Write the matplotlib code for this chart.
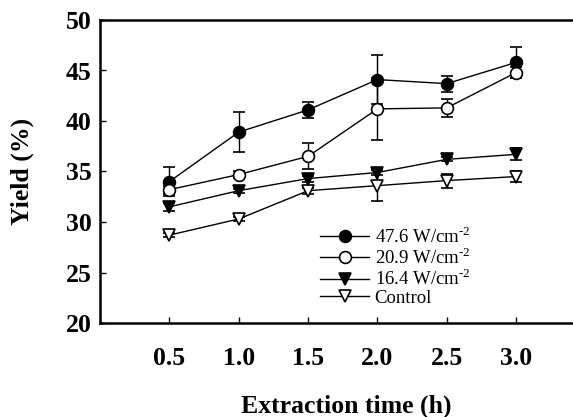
import matplotlib
matplotlib.use("Agg")
import matplotlib.pyplot as plt

plt.rcParams['font.family'] = ['Liberation Serif', 'DejaVu Serif']
plt.rcParams['mathtext.fontset'] = 'custom'
plt.rcParams['mathtext.rm'] = 'Liberation Serif'

time_h = [0.5, 1.0, 1.5, 2.0, 2.5, 3.0]
labels = [r'47.6 W/cm$^{\text{-}2}$', r'20.9 W/cm$^{\text{-}2}$', r'16.4 W/cm$^{\text{-}2}$', 'Control']
yield_476 = [34.0, 38.9, 41.1, 44.1, 43.7, 45.8]
err_476 = [1.4, 2.0, 0.8, 2.4, 0.8, 1.5]
yield_209 = [33.2, 34.7, 36.5, 41.2, 41.3, 44.8]
err_209 = [0.4, 0.3, 1.3, 3.1, 0.9, 0.5]
yield_164 = [31.5, 33.1, 34.3, 34.9, 36.2, 36.7]
err_164 = [0.4, 0.2, 0.3, 0.2, 0.2, 0.6]
yield_ctrl = [28.7, 30.3, 33.1, 33.6, 34.1, 34.5]
err_ctrl = [0.2, 0.2, 0.3, 1.5, 0.7, 0.5]
yticks = [20, 25, 30, 35, 40, 45, 50]
xtick_labels = ['0.5', '1.0', '1.5', '2.0', '2.5', '3.0']

fig = plt.figure(figsize=(5.73, 4.17), dpi=100)
ax = fig.add_axes([100/573, 94/417, 473/573, 303/417])

series = [
    (yield_476, err_476, dict(marker='o', mfc='black')),
    (yield_209, err_209, dict(marker='o', mfc='white')),
    (yield_164, err_164, dict(marker='v', mfc='black')),
    (yield_ctrl, err_ctrl, dict(marker='v', mfc='white')),
]
for (y, e, st), lab in zip(series, labels):
    ax.errorbar(time_h, y, yerr=e, color='black', lw=1.0, ms=8.5, mec='black',
                mew=1.2, capsize=4, elinewidth=1.0, capthick=1.0, label=lab, **st)

ax.set_xlim(0, 3.41)
ax.set_ylim(20, 50)
ax.set_xticks(time_h)
ax.set_xticklabels(xtick_labels)
ax.set_yticks(yticks)
ax.set_yticks([20, 50], minor=True)
ax.tick_params(axis='both', which='major', direction='in', length=4, width=1,
               labelsize=18.5)
ax.tick_params(axis='x', which='major', pad=17)
ax.tick_params(axis='y', which='major', pad=6)
ax.tick_params(axis='y', which='minor', direction='out', length=6, width=1.5)
for lab in ax.get_xticklabels() + ax.get_yticklabels():
    lab.set_fontweight('bold')

ax.spines['right'].set_visible(False)
for s in ['left', 'top', 'bottom']:
    ax.spines[s].set_linewidth(1.8)

ax.set_xlabel('Extraction time (h)', fontsize=18.5, fontweight='bold')
ax.xaxis.set_label_coords(0.52, -0.235)
ax.set_ylabel('Yield (%)', fontsize=18.5, fontweight='bold')
ax.yaxis.set_label_coords(-0.14, 0.5)

handles, labs = ax.get_legend_handles_labels()
handles = [h[0] for h in handles]
ax.legend(handles, labs, loc='upper left', bbox_to_anchor=(0.45, 0.345),
          frameon=False, fontsize=13.5, handlelength=2.6, handletextpad=0.3,
          labelspacing=0.02, borderaxespad=0)

fig.savefig('out.png', dpi=100)
